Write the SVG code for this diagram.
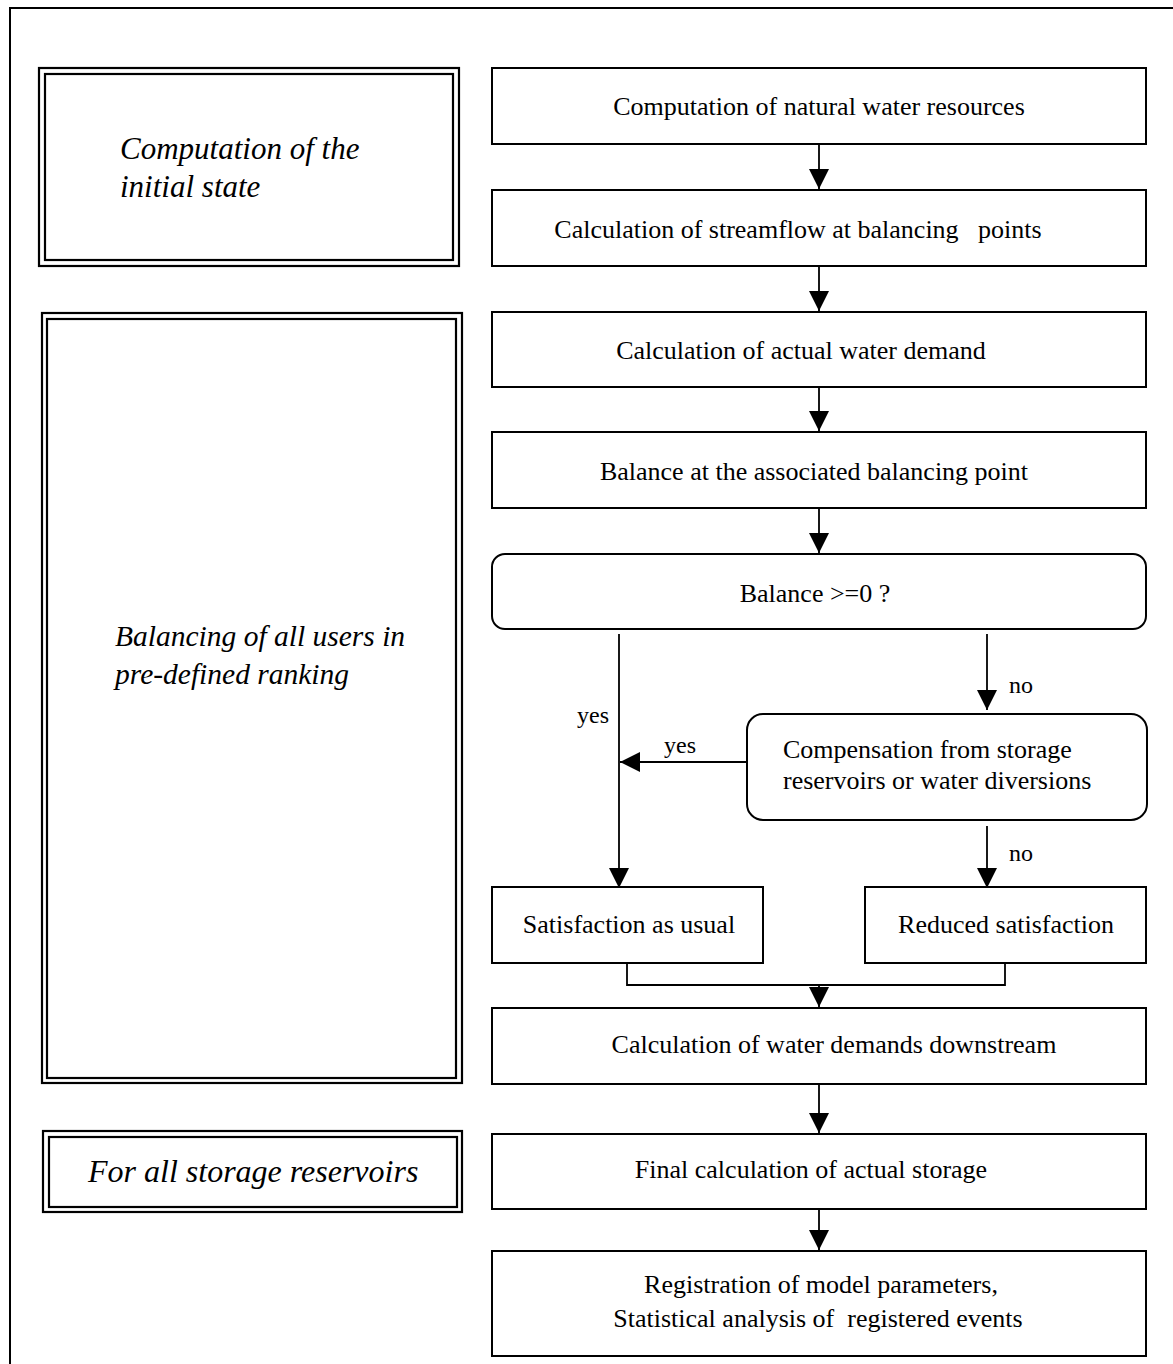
<svg xmlns="http://www.w3.org/2000/svg" width="1173" height="1364" viewBox="0 0 1173 1364">
<style>
.frame{fill:none;stroke:#000;stroke-width:2}
.box{fill:#fff;stroke:#000;stroke-width:2}
.dbl{fill:none;stroke:#000;stroke-width:2.2}
.t{font-family:"Liberation Serif","Times New Roman",serif;font-size:26px;fill:#000}
.c{text-anchor:middle}
.i{font-family:"Liberation Serif","Times New Roman",serif;font-size:31px;font-style:italic;fill:#000}
.lbl{font-family:"Liberation Serif","Times New Roman",serif;font-size:24px;fill:#000}
.ln{fill:none;stroke:#000;stroke-width:1.8}
</style>
<defs>
<marker id="ah" markerUnits="userSpaceOnUse" markerWidth="20" markerHeight="20" refX="20" refY="10" orient="auto" viewBox="0 0 20 20">
<path d="M0,0 L20,10 L0,20 z" fill="#000"/>
</marker>
</defs>
<rect width="1173" height="1364" fill="#fff"/>
<path class="frame" d="M10,1366 V8 H1175"/>

<g id="phase-initial">
<rect class="dbl" x="39" y="68" width="420" height="198"/>
<rect class="dbl" x="45" y="74" width="408" height="186"/>
<text class="i" x="120" y="159">Computation of the</text>
<text class="i" x="120" y="197">initial state</text>
</g>
<g id="phase-balancing">
<rect class="dbl" x="42" y="313" width="420" height="770"/>
<rect class="dbl" x="47" y="319" width="409" height="759"/>
<text class="i" x="115" y="646" style="font-size:29.5px">Balancing of all users in</text>
<text class="i" x="115" y="684" style="font-size:29.5px">pre-defined ranking</text>
</g>
<g id="phase-storage">
<rect class="dbl" x="43" y="1131" width="419" height="81"/>
<rect class="dbl" x="49" y="1137" width="408" height="70"/>
<text class="i" x="88" y="1182" style="font-size:32px">For all storage reservoirs</text>
</g>

<g id="n1"><rect class="box" x="492" y="68" width="654" height="76"/>
<text class="t c" x="819" y="115">Computation of natural water resources</text></g>
<g id="n2"><rect class="box" x="492" y="190" width="654" height="76"/>
<text class="t c" x="798" y="238" xml:space="preserve">Calculation of streamflow at balancing   points</text></g>
<g id="n3"><rect class="box" x="492" y="312" width="654" height="75"/>
<text class="t c" x="801" y="359">Calculation of actual water demand</text></g>
<g id="n4"><rect class="box" x="492" y="432" width="654" height="76"/>
<text class="t c" x="814" y="480">Balance at the associated balancing point</text></g>
<g id="n5"><rect class="box" x="492" y="554" width="654" height="75" rx="13" ry="13"/>
<text class="t c" x="815" y="602">Balance &gt;=0 ?</text></g>
<g id="n6"><rect class="box" x="747" y="714" width="400" height="106" rx="16" ry="16"/>
<text class="t" x="783" y="758">Compensation from storage</text>
<text class="t" x="783" y="789">reservoirs or water diversions</text></g>
<g id="n7"><rect class="box" x="492" y="887" width="271" height="76"/>
<text class="t c" x="629" y="933">Satisfaction as usual</text></g>
<g id="n8"><rect class="box" x="865" y="887" width="281" height="76"/>
<text class="t c" x="1006" y="933">Reduced satisfaction</text></g>
<g id="n9"><rect class="box" x="492" y="1008" width="654" height="76"/>
<text class="t c" x="834" y="1053">Calculation of water demands downstream</text></g>
<g id="n10"><rect class="box" x="492" y="1134" width="654" height="75"/>
<text class="t c" x="811" y="1178">Final calculation of actual storage</text></g>
<g id="n11"><rect class="box" x="492" y="1251" width="654" height="105"/>
<text class="t c" x="821" y="1293">Registration of model parameters,</text>
<text class="t c" x="818" y="1327" xml:space="preserve">Statistical analysis of  registered events</text></g>

<g id="connectors">
<line class="ln" x1="819" y1="144" x2="819" y2="189" marker-end="url(#ah)"/>
<line class="ln" x1="819" y1="266" x2="819" y2="311" marker-end="url(#ah)"/>
<line class="ln" x1="819" y1="387" x2="819" y2="431" marker-end="url(#ah)"/>
<line class="ln" x1="819" y1="508" x2="819" y2="553" marker-end="url(#ah)"/>
<line class="ln" x1="619" y1="634" x2="619" y2="888" marker-end="url(#ah)"/>
<line class="ln" x1="747" y1="762" x2="620" y2="762" marker-end="url(#ah)"/>
<line class="ln" x1="987" y1="634" x2="987" y2="710" marker-end="url(#ah)"/>
<line class="ln" x1="987" y1="826" x2="987" y2="888" marker-end="url(#ah)"/>
<polyline class="ln" points="627,963 627,985 1005,985 1005,963"/>
<line class="ln" x1="819" y1="985" x2="819" y2="1007" marker-end="url(#ah)"/>
<line class="ln" x1="819" y1="1084" x2="819" y2="1133" marker-end="url(#ah)"/>
<line class="ln" x1="819" y1="1209" x2="819" y2="1250" marker-end="url(#ah)"/>
<text class="lbl" x="577" y="723">yes</text>
<text class="lbl" x="664" y="753">yes</text>
<text class="lbl" x="1009" y="693">no</text>
<text class="lbl" x="1009" y="861">no</text>
</g>
</svg>
